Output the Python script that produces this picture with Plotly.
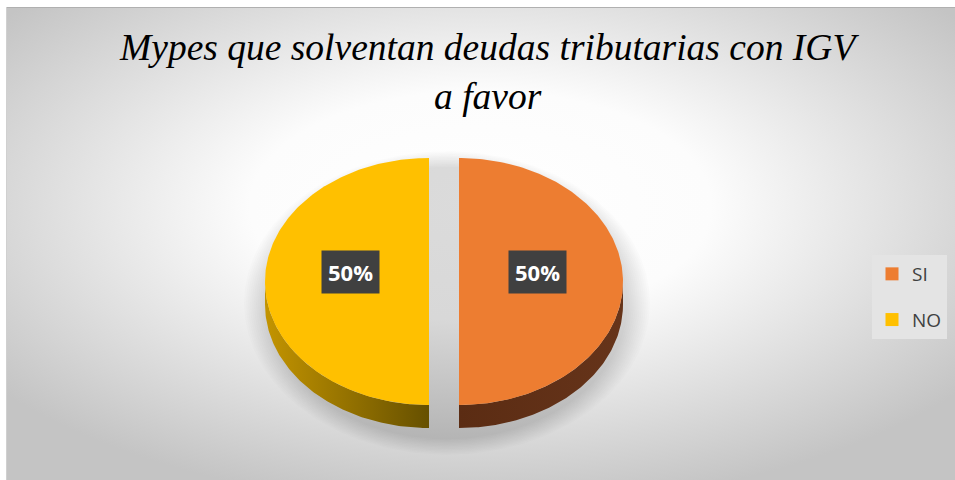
import base64
import numpy as np
import plotly.graph_objects as go

# ---------------- data ----------------
categories = ["SI", "NO"]
values = [50, 50]
top_colors = ["#ED7D31", "#FFC000"]
side_colors = [["#5B2C13", "#66341A"], ["#C39400", "#665000"]]
title_lines = ["Mypes que solventan deudas tributarias con IGV", "a favor"]

# ---------------- geometry / style ----------------
W, H = 955, 480
CX, CY, RX, RY, DEPTH, EXPLODE = 444, 281.5, 164, 123.5, 23, 15

fig = go.Figure()

# soft shadow behind the pie
t = np.linspace(0, 2 * np.pi, 240)
for k in range(12):
    grow = 2 + k * 2
    fig.add_trace(go.Scatter(
        x=CX + 3 + (RX + EXPLODE + grow) * np.sin(t),
        y=CY + DEPTH / 2 + 10 + (RY + DEPTH / 2 + grow * 0.7) * np.cos(t),
        mode="lines", line=dict(width=0), fill="toself",
        fillcolor="rgba(0,0,0,0.012)", hoverinfo="skip", showlegend=False))

total = float(sum(values))
start = 0.0
slices = []
for cat, v, tc, sc in zip(categories, values, top_colors, side_colors):
    a1 = start
    a2 = start + v / total * 2 * np.pi
    start = a2
    mid = (a1 + a2) / 2
    ox = CX + EXPLODE * np.sin(mid)
    oy = CY - EXPLODE * np.cos(mid) * RY / RX
    slices.append((cat, v, tc, sc, a1, a2, mid, ox, oy))

# side walls (visible front half only)
for cat, v, tc, sc, a1, a2, mid, ox, oy in slices:
    lo = max(a1, np.pi / 2)
    hi = min(a2, 3 * np.pi / 2)
    if hi <= lo:
        continue
    tt = np.linspace(lo, hi, 120)
    xs = ox + RX * np.sin(tt)
    ys = oy - RY * np.cos(tt)
    px = np.concatenate([xs, xs[::-1], xs[:1]])
    py = np.concatenate([ys, ys[::-1] + DEPTH, ys[:1]])
    fig.add_trace(go.Scatter(
        x=px, y=py, mode="lines", line=dict(width=0), fill="toself",
        fillgradient=dict(type="horizontal",
                          colorscale=[[0, sc[0]], [1, sc[1]]]),
        hoverinfo="skip", showlegend=False))

# top faces
for cat, v, tc, sc, a1, a2, mid, ox, oy in slices:
    tt = np.linspace(a1, a2, 200)
    xs = np.concatenate([[ox], ox + RX * np.sin(tt), [ox]])
    ys = np.concatenate([[oy], oy - RY * np.cos(tt), [oy]])
    fig.add_trace(go.Scatter(
        x=xs, y=ys, mode="lines", line=dict(width=0), fill="toself",
        fillcolor=tc, hoverinfo="skip", showlegend=False))

# legend entries
for cat, tc in zip(categories, top_colors):
    fig.add_trace(go.Scatter(
        x=[None], y=[None], mode="markers", name=cat, legendgroup=cat,
        marker=dict(symbol="square", size=13, color=tc)))

# data labels
annotations = []
for cat, v, tc, sc, a1, a2, mid, ox, oy in slices:
    lx = ox + 0.48 * RX * np.sin(mid)
    ly = oy - 10
    txt = f"{round(v / total * 100)}%"
    annotations.append(dict(
        x=lx, y=ly, xref="x", yref="y", text=f"<b>{txt}</b>", showarrow=False,
        font=dict(family="Open Sans", size=22, color="white"),
        bgcolor="#404040", borderpad=6))

# title
annotations.append(dict(
    x=489 / W, y=1 - 72 / H, xref="paper", yref="paper",
    text="<i>" + "<br>".join(title_lines) + "</i>", showarrow=False,
    xanchor="center", yanchor="middle",
    font=dict(family="Liberation Serif", size=37.5, color="#000000")))

bg_svg = (
    '<svg xmlns="http://www.w3.org/2000/svg" width="949" height="473" '
    'viewBox="0 0 949 473" preserveAspectRatio="none">'
    '<defs><radialGradient id="g" cx="0.5" cy="0.42" r="0.64">'
    '<stop offset="0" stop-color="#ffffff"/>'
    '<stop offset="0.38" stop-color="#fcfcfc"/>'
    '<stop offset="1" stop-color="#c4c4c4"/>'
    '</radialGradient></defs>'
    '<rect width="949" height="473" fill="url(#g)"/>'
    '<line x1="0" y1="0.5" x2="949" y2="0.5" stroke="#b0b0b0"/>'
    '<line x1="0.5" y1="0" x2="0.5" y2="473" stroke="#d0d0d0"/>'
    '</svg>')
bg_uri = "data:image/svg+xml;base64," + base64.b64encode(bg_svg.encode()).decode()

fig.update_layout(
    width=W, height=H,
    margin=dict(l=0, r=0, t=0, b=0),
    paper_bgcolor="white",
    plot_bgcolor="rgba(0,0,0,0)",
    xaxis=dict(range=[0, W], visible=False, fixedrange=True),
    yaxis=dict(range=[H, 0], visible=False, fixedrange=True),
    images=[dict(source=bg_uri, xref="paper", yref="paper",
                 x=6 / W, y=1 - 7 / H, sizex=(W - 6) / W, sizey=(H - 7) / H,
                 xanchor="left", yanchor="top", sizing="stretch",
                 layer="below")],
    annotations=annotations,
    legend=dict(x=947 / W, y=1 - 255 / H, xanchor="right", yanchor="top",
                bgcolor="#e4e4e4", font=dict(family="Open Sans", size=19,
                                               color="#404040"),
                tracegroupgap=18, traceorder="grouped",
                itemwidth=30),
    showlegend=True,
)

fig.write_html("out.html", config={"displayModeBar": False},
               post_script="document.body.style.margin='0';")
